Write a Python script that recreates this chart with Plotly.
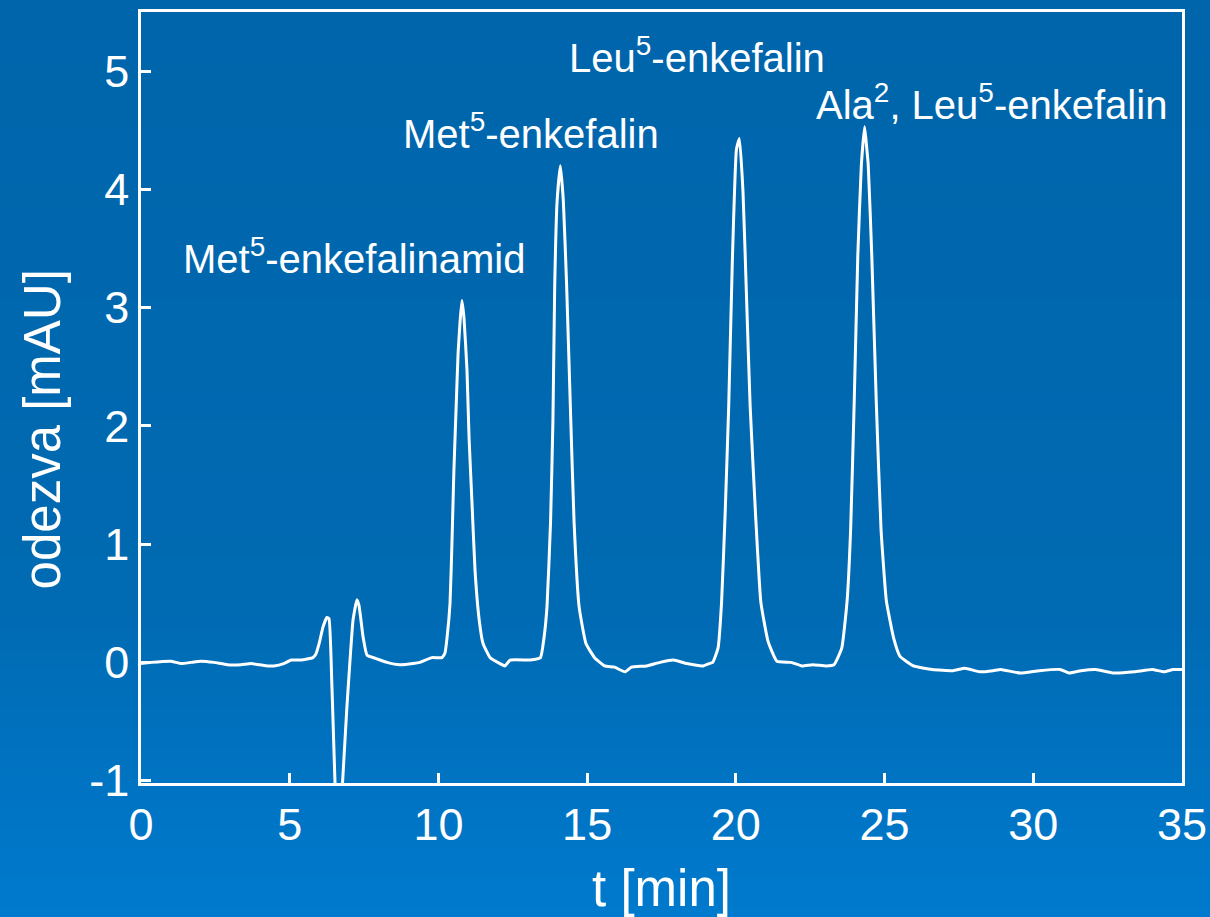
import base64, struct, zlib
import plotly.graph_objects as go

# ---- data ----
t_min = [0.00, 0.34, 1.00, 1.35, 1.68, 2.00, 2.45, 2.90, 3.36, 3.70, 4.27, 4.47, 4.80, 5.05, 5.38,
         5.78, 5.88, 5.99, 6.12, 6.25, 6.32, 6.42, 6.62, 6.93, 7.13, 7.26, 7.33, 7.47, 7.60, 7.93,
         8.27, 8.71, 9.15, 9.38, 9.78, 10.12, 10.22, 10.29, 10.39, 10.46, 10.52, 10.60, 10.66, 10.73,
         10.79, 10.86, 10.96, 11.03, 11.13, 11.23, 11.37, 11.50, 11.74, 12.07, 12.24, 12.41, 12.98,
         13.08, 13.43, 13.54, 13.65, 13.77, 13.85, 13.91, 13.99, 14.10, 14.20, 14.31, 14.45, 14.56,
         14.73, 14.96, 15.25, 15.59, 15.92, 16.27, 16.49, 17.00, 17.45, 17.90, 18.35, 18.90, 19.10,
         19.22, 19.40, 19.52, 19.64, 19.76, 19.88, 20.02, 20.12, 20.24, 20.36, 20.48, 20.66, 20.84,
         21.08, 21.38, 21.86, 22.22, 22.58, 23.04, 23.30, 23.56, 23.74, 23.86, 23.98, 24.10, 24.22,
         24.33, 24.40, 24.45, 24.57, 24.72, 24.88, 25.06, 25.31, 25.52, 25.97, 26.60, 27.30, 27.70,
         28.20, 28.65, 28.90, 29.56, 30.20, 30.90, 31.20, 31.60, 32.10, 32.70, 33.40, 34.00, 34.40,
         34.70, 35.00]
odezva = [-0.01, 0.00, 0.01, -0.01, 0.00, 0.01, 0.00, -0.02, -0.02, -0.01, -0.03, -0.03, -0.01, 0.02, 0.02,
          0.04, 0.07, 0.16, 0.30, 0.38, 0.37, -0.21, -1.60, -0.35, 0.36, 0.53, 0.48, 0.21, 0.06, 0.03,
          0.00, -0.02, -0.01, 0.00, 0.04, 0.04, 0.08, 0.21, 0.50, 1.06, 1.62, 2.19, 2.61, 2.89,
          3.06, 2.91, 2.47, 1.90, 1.34, 0.78, 0.36, 0.16, 0.04, -0.01, -0.03, 0.02, 0.02,
          0.02, 0.04, 0.19, 0.47, 1.19, 2.05, 3.19, 3.90, 4.20, 3.90, 3.19, 2.05, 1.19,
          0.47, 0.16, 0.04, -0.03, -0.04, -0.08, -0.04, -0.03, 0.00, 0.02, -0.01, -0.03, -0.01,
          0.00, 0.12, 0.51, 1.26, 2.17, 3.38, 4.34, 4.43, 3.98, 3.08, 2.17, 1.26, 0.51,
          0.18, 0.01, 0.00, -0.03, -0.02, -0.03, -0.02, 0.12, 0.52, 1.13, 2.21, 3.44, 4.21,
          4.53, 4.35, 4.21, 3.44, 2.21, 1.13, 0.52, 0.20, 0.05, -0.03, -0.06, -0.07, -0.05,
          -0.08, -0.07, -0.06, -0.09, -0.07, -0.06, -0.09, -0.07, -0.06, -0.09, -0.08, -0.06, -0.08,
          -0.06, -0.06]

peak_labels = ["Met<sup>5</sup>-enkefalinamid", "Met<sup>5</sup>-enkefalin",
               "Leu<sup>5</sup>-enkefalin", "Ala<sup>2</sup>, Leu<sup>5</sup>-enkefalin"]
label_t = [7.17, 13.1, 18.7, 28.6]
label_y = [3.44, 4.49, 5.14, 4.74]

x_ticks = [0, 5, 10, 15, 20, 25, 30, 35]
y_ticks = [-1, 0, 1, 2, 3, 4, 5]
y_tick_text = ["-1", "0", "1", "2", "3", "4", "5"]
x_title = "t [min]"
y_title = "odezva [mAU]"

# ---- background gradient as a tiny PNG ----
def grad_png(h=917):
    stops = [(0, (0, 101, 171)), (600, (0, 106, 178)), (917, (0, 122, 206))]
    rows = b""
    for y in range(h):
        for i in range(len(stops) - 1):
            if stops[i][0] <= y <= stops[i + 1][0]:
                y0, c0 = stops[i]; y1, c1 = stops[i + 1]
                f = (y - y0) / (y1 - y0)
                c = tuple(int(round(a + (b - a) * f)) for a, b in zip(c0, c1))
                break
        rows += b"\x00" + bytes(c)
    def chunk(tag, data):
        return struct.pack(">I", len(data)) + tag + data + struct.pack(">I", zlib.crc32(tag + data) & 0xffffffff)
    png = b"\x89PNG\r\n\x1a\n" + chunk(b"IHDR", struct.pack(">IIBBBBB", 1, h, 8, 2, 0, 0, 0))
    png += chunk(b"IDAT", zlib.compress(rows)) + chunk(b"IEND", b"")
    return "data:image/png;base64," + base64.b64encode(png).decode()

W, H = 1210, 917
ml, mr, mt, mb = 141, 28, 12, 134
pw, ph = W - ml - mr, H - mt - mb

fig = go.Figure()
fig.add_trace(go.Scatter(x=t_min, y=odezva, mode="lines",
                         line=dict(color="white", width=3, shape="spline", smoothing=0.4),
                         hoverinfo="skip"))

font = "Liberation Sans, Arial"
for txt, tx, ty in zip(peak_labels, label_t, label_y):
    fig.add_annotation(x=tx, y=ty, text=txt, showarrow=False,
                       font=dict(color="white", size=40, family=font),
                       xanchor="center", yanchor="middle")

# y-axis title placed as a rotated annotation (sits a little below the plot centre)
fig.add_annotation(xref="paper", x=(42 - ml) / pw, yref="y", y=1.97, text=y_title,
                   textangle=-90, showarrow=False, xanchor="center", yanchor="middle",
                   font=dict(color="white", size=51, family=font))

fig.update_layout(
    width=W, height=H,
    margin=dict(l=ml, r=mr, t=mt, b=mb, autoexpand=False),
    paper_bgcolor="#0068b0",
    plot_bgcolor="rgba(0,0,0,0)",
    showlegend=False,
    font=dict(family=font, color="white"),
    images=[dict(source=grad_png(), xref="paper", yref="paper",
                 x=-ml / pw, y=1 + mt / ph, sizex=W / pw, sizey=H / ph,
                 xanchor="left", yanchor="top", sizing="stretch", layer="below")],
    xaxis=dict(range=[0, 35], tickvals=x_ticks, ticks="inside", ticklen=10, tickwidth=2.5,
               automargin=False,
               tickcolor="white", showline=True, linecolor="white", linewidth=2.5, mirror=True,
               showgrid=False, zeroline=False, tickfont=dict(size=45, color="white"),
               title=dict(text=x_title, font=dict(size=51, color="white"), standoff=26)),
    yaxis=dict(range=[-1.02, 5.5], tickvals=y_ticks, ticktext=y_tick_text, ticks="inside",
               ticklen=10, tickwidth=2.5, automargin=False,
               tickcolor="white", showline=True, linecolor="white", linewidth=2.5, mirror=True,
               showgrid=False, zeroline=False, tickfont=dict(size=45, color="white")),
)

fig.write_html("out.html", config={"displayModeBar": False},
               post_script="document.body.style.margin='0';document.body.style.overflow='hidden';")
